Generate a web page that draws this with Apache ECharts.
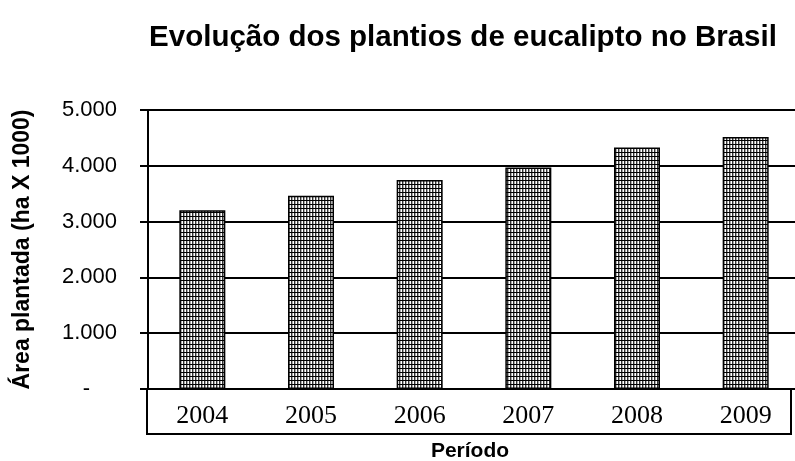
<!DOCTYPE html>
<html>
<head>
<meta charset="utf-8">
<script src="https://cdn.jsdelivr.net/npm/echarts@6/dist/echarts.min.js"></script>
<style>
  html, body { margin: 0; padding: 0; background: #fff; }
  #chart { width: 795px; height: 461px; }
</style>
</head>
<body>
<div id="chart"></div>
<script>
const years = ['2004', '2005', '2006', '2007', '2008', '2009']
const area = [3202, 3463, 3746, 3970, 4326, 4516]
const yTicks = [0, 1000, 2000, 3000, 4000, 5000]

// small cross-hatch tile for the bars
function hatch() {
  const c = document.createElement('canvas')
  c.width = 3
  c.height = 4
  const ctx = c.getContext('2d')
  ctx.fillStyle = '#fff'
  ctx.fillRect(0, 0, 3, 4)
  ctx.fillStyle = '#aaa'
  ctx.fillRect(1, 0, 1, 4)
  ctx.fillStyle = '#333'
  ctx.fillRect(0, 0, 1, 4)
  ctx.fillStyle = '#000'
  ctx.fillRect(0, 0, 3, 1)
  return c
}

function fmt(v) {
  if (v === 0) return '{z|-}'
  return String(v).replace(/\B(?=(\d{3})+(?!\d))/g, '.')
}

const chart = echarts.init(document.getElementById('chart'))
const sans = 'Liberation Sans'

chart.setOption({
  animation: false,
  title: {
    text: 'Evolução dos plantios de eucalipto no Brasil',
    left: 458,
    textAlign: 'center',
    top: 18,
    textStyle: { fontFamily: sans, fontWeight: 'bold', fontSize: 29.5, color: '#000' },
  },
  grid: { left: 148, right: -5, top: 110, bottom: 72, outerBoundsMode: 'none', containLabel: false },
  xAxis: {
    type: 'category',
    data: years,
    name: 'Período',
    nameLocation: 'middle',
    nameGap: 52,
    nameTextStyle: { fontFamily: sans, fontWeight: 'bold', fontSize: 21, color: '#000', padding: [0, 8, 0, 0] },
    axisLine: { lineStyle: { color: '#000', width: 2 } },
    axisTick: { show: false },
    axisLabel: { fontFamily: 'Liberation Serif', fontSize: 26, color: '#000', margin: 14 },
  },
  yAxis: {
    type: 'value',
    min: yTicks[0],
    max: yTicks[yTicks.length - 1],
    interval: 1000,
    name: 'Área plantada (ha X 1000)',
    nameLocation: 'middle',
    nameGap: 114,
    nameTextStyle: { fontFamily: sans, fontWeight: 'bold', fontSize: 23, color: '#000' },
    axisLine: { show: true, lineStyle: { color: '#000', width: 2 } },
    axisTick: { show: true, length: 8, lineStyle: { color: '#000', width: 2 } },
    splitLine: { lineStyle: { color: '#000', width: 2 } },
    axisLabel: {
      fontFamily: sans,
      fontSize: 22,
      color: '#000',
      margin: 31,
      formatter: fmt,
      rich: { z: { fontFamily: sans, fontSize: 22, color: '#000', padding: [0, 27, 0, 0] } },
    },
  },
  series: [
    {
      type: 'bar',
      data: area,
      barWidth: 46,
      itemStyle: {
        color: { image: hatch(), repeat: 'repeat' },
        borderColor: '#000',
        borderWidth: 1.5,
      },
    },
  ],
  graphic: [
    {
      type: 'rect',
      shape: { x: 147, y: 389, width: 644, height: 45 },
      style: { fill: 'none', stroke: '#000', lineWidth: 2 },
      z: 10,
    },
  ],
})
</script>
</body>
</html>
